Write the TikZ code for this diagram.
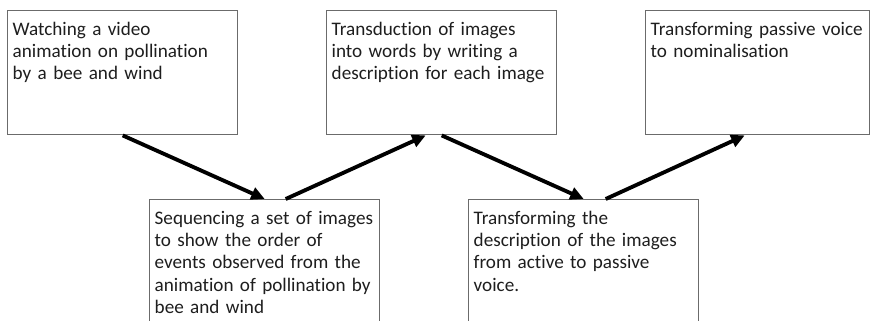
\documentclass[tikz,border=0pt]{standalone}
\usepackage{fontspec}
\setmainfont{Carlito}[Ligatures={NoCommon}]
\usepackage{tikz}
\usetikzlibrary{arrows.meta, positioning, calc}
\definecolor{boxline}{HTML}{6b6b6b}
\definecolor{ink}{HTML}{1e1e1e}

\begin{document}
\begin{tikzpicture}[
    stage/.style={rectangle, draw=boxline, line width=0.8pt, fill=white,
                  anchor=north west, text width=4.4cm, align=left,
                  inner xsep=0.1cm, inner ysep=0.18cm,
                  text height=0.32cm, text depth=1.8cm,
                  font=\fontsize{10.9}{12.6}\selectfont, text=ink},
    lowstage/.style={stage, text depth=2.6cm},
    arrow/.style={-{Triangle[length=2.7mm, width=2.5mm]}, line width=2.2pt, black}
]
    \useasboundingbox (0,0) rectangle (17.4,-6.4);

    % upper row
    \node[stage] (watch) at (0.14,-0.20) {Watching a video\\animation on pollination\\by a bee and wind};
    \node[stage] (transduce) at (6.52,-0.20) {Transduction of images\\into words by writing a\\description for each image};
    \node[stage, text width=4.28cm] (nominal) at (12.90,-0.20) {Transforming passive voice\\to nominalisation};

    % lower row
    \node[lowstage] (sequence) at (2.98,-3.98) {Sequencing a set of images\\to show the order of\\events observed from the\\animation of pollination by\\bee and wind};
    \node[lowstage] (passive) at (9.36,-3.98) {Transforming the\\description of the images\\from active to passive\\voice.};

    \draw[arrow] (watch.south) -- (sequence.north);
    \draw[arrow] ([xshift=0.42cm]sequence.north) -- ([xshift=-0.32cm]transduce.south);
    \draw[arrow] (transduce.south) -- (passive.north);
    \draw[arrow] ([xshift=0.44cm]passive.north) -- ([xshift=-0.26cm]nominal.south);
\end{tikzpicture}
\end{document}
